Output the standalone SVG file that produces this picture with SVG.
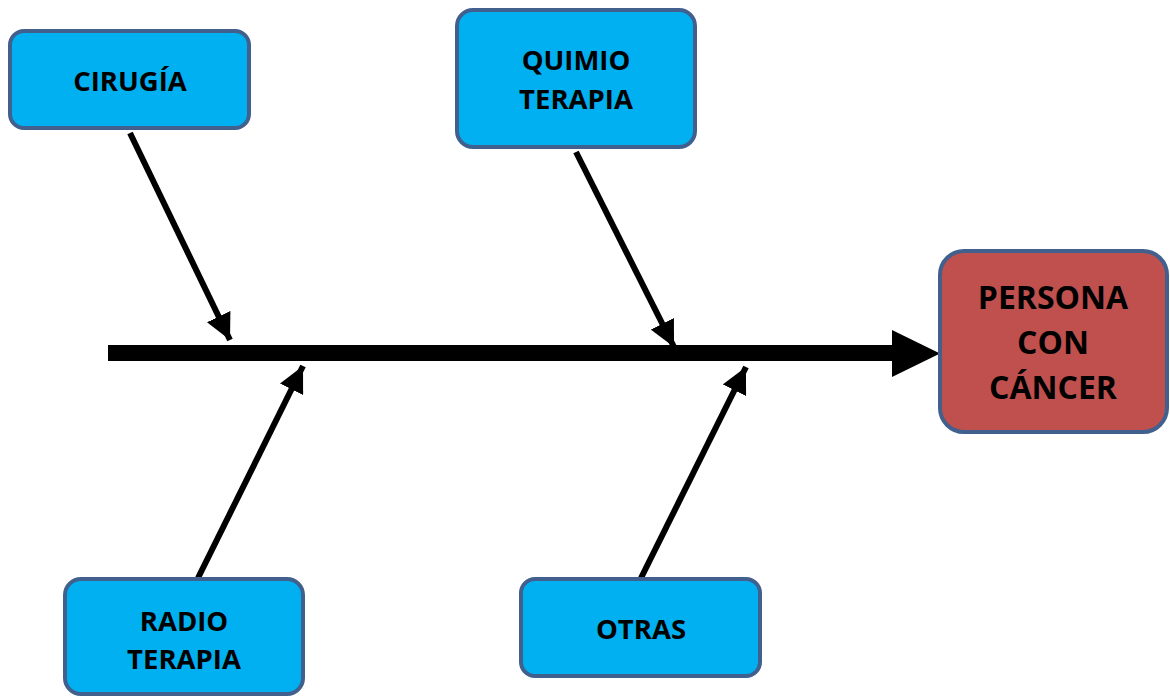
<svg xmlns="http://www.w3.org/2000/svg" width="1170" height="696" viewBox="0 0 1170 696">
<style>
.box{fill:#00b0f0;stroke:#41608d;stroke-width:4}
.eff{fill:#c0504d;stroke:#41608d;stroke-width:4}
.t{font-family:"Open Sans","Noto Sans",sans-serif;font-weight:bold;font-size:27.5px;fill:#000;text-anchor:middle}
.te{font-family:"Open Sans","Noto Sans",sans-serif;font-weight:bold;font-size:32px;fill:#000;text-anchor:middle}
.bone{stroke:#000;stroke-width:6;fill:none;marker-end:url(#ah)}
</style>
<defs>
<marker id="ah" markerUnits="userSpaceOnUse" markerWidth="28" markerHeight="26" refX="26" refY="13" orient="auto" viewBox="0 0 28 26">
<polygon points="0,0 26,13 0,26" fill="#000"/>
</marker>
</defs>
<rect width="1170" height="696" fill="#fff"/>
<g id="connectors">
<rect x="108" y="345" width="787" height="16" fill="#000"/>
<polygon points="892,330 940,353.5 892,377" fill="#000"/>
<line class="bone" x1="130" y1="133" x2="230" y2="340"/>
<line class="bone" x1="576" y1="152" x2="674" y2="347"/>
<line class="bone" x1="198" y1="578" x2="303" y2="366"/>
<line class="bone" x1="641" y1="578" x2="746" y2="367"/>
</g>
<g id="cirugia">
<rect class="box" x="10" y="31" width="239" height="97" rx="14"/>
<text class="t" x="130" y="91">CIRUGÍA</text>
</g>
<g id="quimio">
<rect class="box" x="457" y="10" width="238" height="137" rx="16"/>
<text class="t" x="576" y="70">QUIMIO</text>
<text class="t" x="576" y="109">TERAPIA</text>
</g>
<g id="radio">
<rect class="box" x="65" y="579" width="238" height="115" rx="16"/>
<text class="t" x="184" y="631">RADIO</text>
<text class="t" x="184" y="669">TERAPIA</text>
</g>
<g id="otras">
<rect class="box" x="521" y="579" width="239" height="97" rx="14"/>
<text class="t" x="641" y="639">OTRAS</text>
</g>
<g id="persona">
<rect class="eff" x="940" y="251" width="227" height="181" rx="24"/>
<text class="te" x="1053" y="309">PERSONA</text>
<text class="te" x="1053" y="354">CON</text>
<text class="te" x="1053" y="399">CÁNCER</text>
</g>
</svg>
